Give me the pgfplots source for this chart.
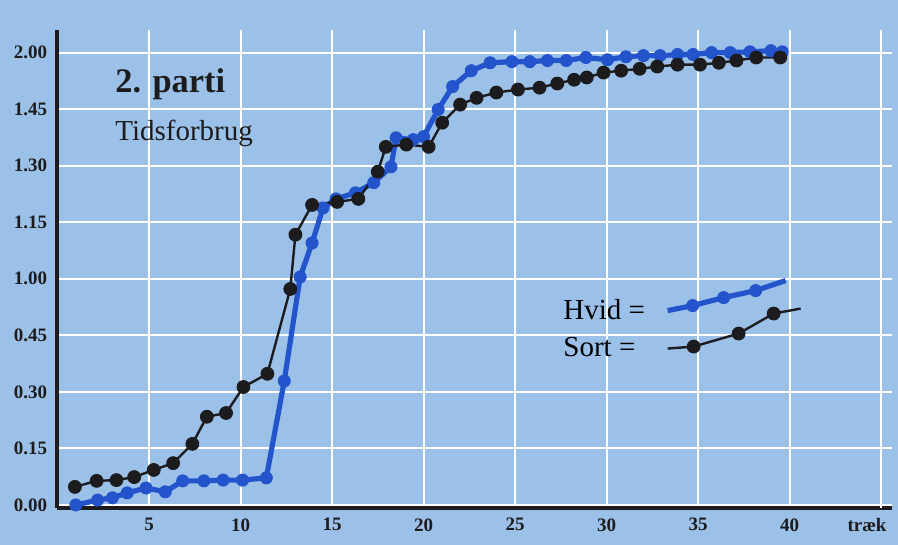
\documentclass[border=0pt]{standalone}
\usepackage{pgfplots}
\pgfplotsset{compat=1.18}
\usepackage{fontspec}
\setmainfont{Liberation Serif}
\definecolor{bgblue}{RGB}{156,193,232}
\definecolor{hvid}{RGB}{36,84,204}
\definecolor{sort}{RGB}{28,28,30}
\pgfplotsset{
  hvidleg/.style={legend image code/.code={\draw[##1, mark indices={2,3,4}] plot coordinates
    {(0pt,0pt) (12.5pt,2.5pt) (28pt,6.5pt) (44pt,10pt) (59pt,15pt)};}},
  sortleg/.style={legend image code/.code={\draw[##1, mark indices={2,3,4}] plot coordinates
    {(0pt,0pt) (13pt,1pt) (35.5pt,7.5pt) (53pt,17.5pt) (66.5pt,20pt)};}},
}

\begin{document}
\begin{tikzpicture}
\fill[bgblue] (-28.75pt,-18.5pt) rectangle (420.25pt,254pt);
\begin{axis}[
  at={(0pt,0pt)}, anchor=south west,
  scale only axis, width=417.25pt, height=239pt,
  xmin=0, xmax=45.6, ymin=-0.8, ymax=126,
  axis x line*=bottom, axis y line*=left,
  axis line style={-, line width=2pt, sort},
  xtick={5,10,...,40},
  xticklabels={5,10,15,20,25,30,35,40},
  extra x ticks={45}, extra x tick labels={træk},
  extra x tick style={grid=major, xticklabel style={xshift=-7pt}},
  ytick={0,15,...,120},
  yticklabels={0.00,0.15,0.30,0.45,1.00,1.15,1.30,1.45,2.00},
  grid=major,
  major grid style={white, line width=1pt},
  major tick length=0pt,
  ticklabel style={font=\fontsize{9.5}{11}\selectfont\bfseries, text=sort},
  yticklabel style={inner sep=0pt, xshift=-5pt},
  xticklabel style={inner sep=0pt, yshift=-5pt},
  legend plot pos=right,
  legend cell align=left,
  legend style={draw=none, fill=none, inner sep=0pt,
    at={(rel axis cs:0.601,0.482)}, anchor=north west,
    font=\fontsize{14.5}{16}\selectfont, row sep=-9.5pt, column sep=8pt},
]
% Hvid (white) - minutes used after each move
\addplot[hvid, line width=2.6pt, line join=round, mark=*, mark size=3pt,
  mark options={solid, fill=hvid, line width=0.5pt}, hvidleg]
  coordinates {
  (1.0,0.0) (2.19,1.3) (3.0,1.9) (3.81,3.2) (4.84,4.5) (5.89,3.5) (6.84,6.4)
  (8.0,6.4) (9.05,6.6) (10.11,6.6) (11.41,7.2) (12.39,32.9) (13.26,60.5)
  (13.91,69.5) (14.51,78.8) (15.22,81.2) (16.28,82.8) (17.28,85.5) (18.22,89.7)
  (18.5,97.4) (19.44,96.9) (20.0,97.7) (20.8,104.9) (21.59,111.0) (22.61,115.2)
  (23.64,117.3) (24.83,117.6) (25.81,117.6) (26.77,117.9) (27.8,117.9)
  (28.87,118.7) (30.05,118.1) (31.06,118.9) (32.02,119.2) (32.93,119.2)
  (33.88,119.5) (34.73,119.5) (35.74,120.0) (36.76,120.0) (37.84,120.2)
  (38.98,120.5) (39.6,120.2)
  };
\addlegendentry{Hvid =}
% Sort (black)
\addplot[sort, line width=1.2pt, line join=round, mark=*, mark size=3.2pt,
  mark options={solid, fill=sort, line width=0.5pt}, sortleg]
  coordinates {
  (0.95,4.8) (2.14,6.4) (3.22,6.6) (4.19,7.4) (5.26,9.3) (6.32,11.1)
  (7.37,16.2) (8.16,23.4) (9.21,24.4) (10.16,31.3) (11.47,34.8) (12.72,57.3)
  (13.0,71.7) (13.91,79.6) (15.28,80.4) (16.44,81.2) (17.5,88.4) (17.94,95.0)
  (19.06,95.6) (20.28,95.0) (21.02,101.4) (22.0,106.2) (22.9,108.0)
  (23.98,109.4) (25.16,110.2) (26.34,110.7) (27.31,111.8) (28.23,112.8)
  (28.92,113.4) (29.84,114.7) (30.8,115.2) (31.81,115.7) (32.77,116.3)
  (33.88,116.8) (35.11,116.8) (36.14,117.3) (37.1,117.9) (38.18,118.7)
  (39.49,118.7)
  };
\addlegendentry{Sort =}
\node[anchor=west, inner sep=0pt, font=\fontsize{17.2}{20}\selectfont\bfseries, text=sort]
  at (axis cs:3.14,111.5) {2. parti};
\node[anchor=west, inner sep=0pt, font=\fontsize{14.5}{17}\selectfont, text=sort]
  at (axis cs:3.14,98.5) {Tidsforbrug};
\end{axis}
\pgfresetboundingbox
\path[use as bounding box] (-28.75pt,-18.5pt) rectangle (420.25pt,254pt);
\end{tikzpicture}
\end{document}
